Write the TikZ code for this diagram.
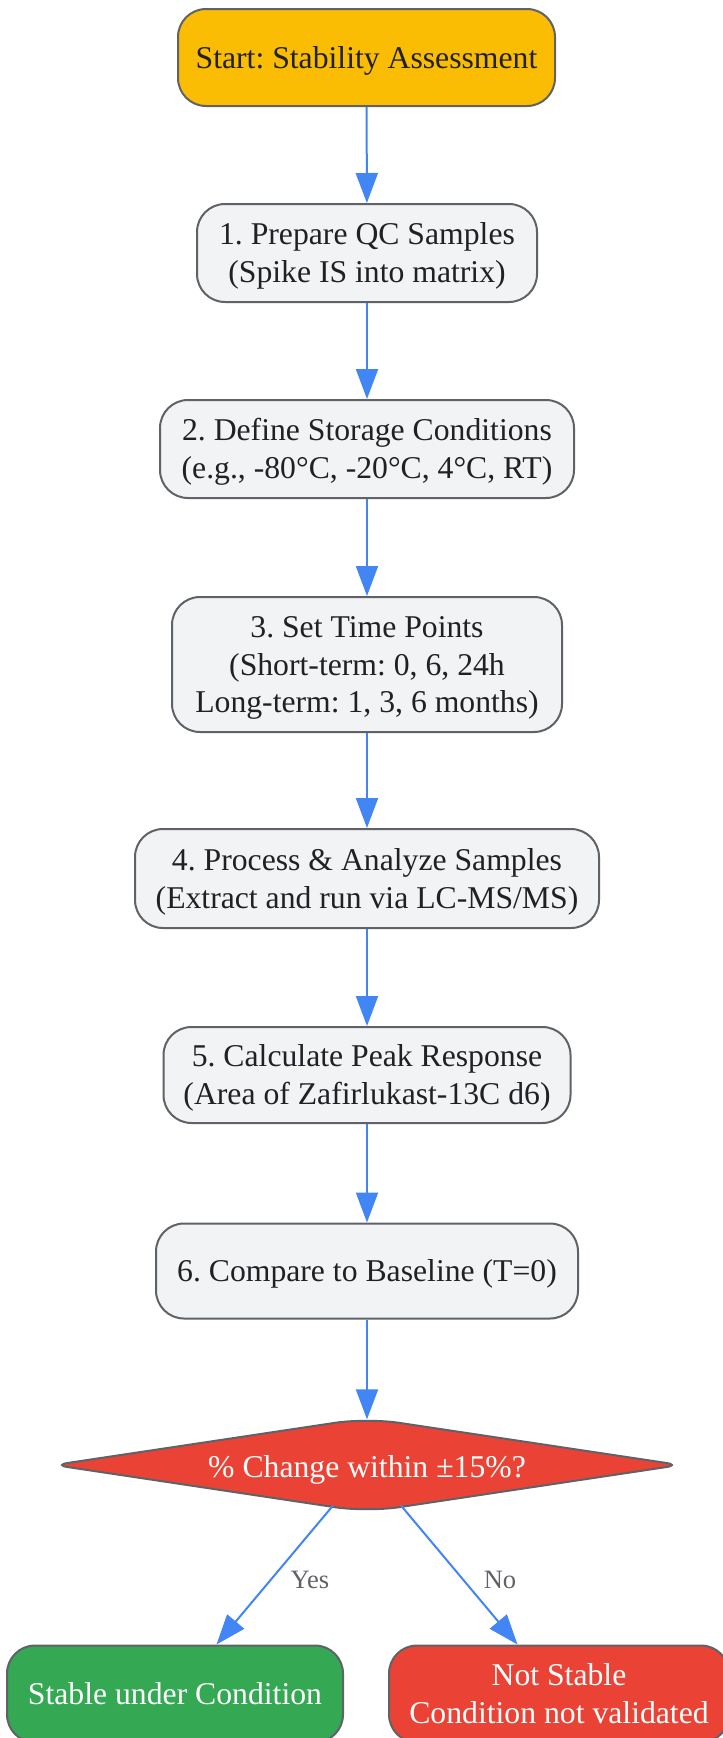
\documentclass[tikz,border=0pt]{standalone}
\usepackage{fontspec}
\setmainfont{Liberation Serif}
\usetikzlibrary{arrows.meta,shapes.geometric,calc}
\definecolor{strokeg}{HTML}{5F6368}
\definecolor{procfill}{HTML}{F1F3F4}
\definecolor{startfill}{HTML}{FBBC04}
\definecolor{redfill}{HTML}{EA4335}
\definecolor{greenfill}{HTML}{34A853}
\definecolor{arrowc}{HTML}{4285F4}
\definecolor{textc}{HTML}{202124}
\newcommand{\lnstrut}{\rule[-8.2pt]{0pt}{37.7pt}}
\frenchspacing
\begin{document}
\begin{tikzpicture}[x=1pt,y=1pt,
  box/.style={draw=strokeg, line width=2pt, rounded corners=28pt, align=center, inner sep=0pt, font=\fontsize{31.7}{37.7}\selectfont, text=textc},
  proc/.style={box, fill=procfill},
  flow/.style={draw=arrowc, line width=2pt, -{Triangle[length=30pt,width=22pt]}},
  lbl/.style={font=\fontsize{26.5}{30}\selectfont, text=strokeg}]
\useasboundingbox (0,0) rectangle (723,-1738);
\node[box, fill=startfill, minimum width=377pt, minimum height=97pt] (start) at (366.5,-57.5) {\lnstrut Start: Stability Assessment};
\node[proc, minimum width=340pt, minimum height=98pt] (n1) at (367,-253) {\lnstrut 1. Prepare QC Samples\\\lnstrut (Spike IS into matrix)};
\node[proc, minimum width=414pt, minimum height=98pt] (n2) at (367,-449) {\lnstrut 2. Define Storage Conditions\\\lnstrut (e.g., -80°C, -20°C, 4°C, RT)};
\node[proc, minimum width=390pt, minimum height=135pt] (n3) at (367,-664.5) {\lnstrut 3. Set Time Points\\\lnstrut (Short-term: 0, 6, 24h\\\lnstrut Long-term: 1, 3, 6 months)};
\node[proc, minimum width=464pt, minimum height=99pt] (n4) at (367,-878.5) {\lnstrut 4. Process \& Analyze Samples\\\lnstrut (Extract and run via LC-MS/MS)};
\node[proc, minimum width=407pt, minimum height=96pt] (n5) at (367,-1075) {\lnstrut 5. Calculate Peak Response\\\lnstrut (Area of Zafirlukast-13C d6)};
\node[proc, minimum width=422pt, minimum height=95pt] (n6) at (367,-1271) {\lnstrut 6. Compare to Baseline (T=0)};
\coordinate (dN) at (367,-1418);
\coordinate (dE) at (680,-1465);
\coordinate (dS) at (367,-1512);
\coordinate (dW) at (54,-1465);
\draw[fill=redfill, draw=strokeg, line width=2pt] ($(dW)!0.5!(dN)$) [rounded corners=32pt] -- (dN) [rounded corners=14pt] -- (dE) [rounded corners=32pt] -- (dS) [rounded corners=14pt] -- (dW) -- cycle;
\node[diamond, aspect=6.72, minimum width=612pt, minimum height=91pt, inner sep=0pt, text=white, font=\fontsize{31.7}{37.7}\selectfont] (d) at (367,-1465) {\raisebox{-2pt}[29.5pt][8.2pt]{\% Change within ±15\%?}};
\node[box, fill=greenfill, text=white, minimum width=336pt, minimum height=97pt] (stable) at (175,-1694) {\lnstrut Stable under Condition};
\node[box, fill=redfill, text=white, minimum width=340pt, minimum height=97pt] (notstable) at (559,-1694) {\lnstrut Not Stable\\\lnstrut Condition not validated};
\draw[flow] (start) -- (n1);
\draw[flow] (n1) -- (n2);
\draw[flow] (n2) -- (n3);
\draw[flow] (n3) -- (n4);
\draw[flow] (n4) -- (n5);
\draw[flow] (n5) -- (n6);
\draw[flow] (n6) -- (d);
\draw[flow] (d) -- (stable);
\draw[flow] (d) -- (notstable);
\node[lbl] (yes) at (310,-1580) {Yes};
\node[lbl] (no) at (500,-1580) {No};
\end{tikzpicture}
\end{document}
